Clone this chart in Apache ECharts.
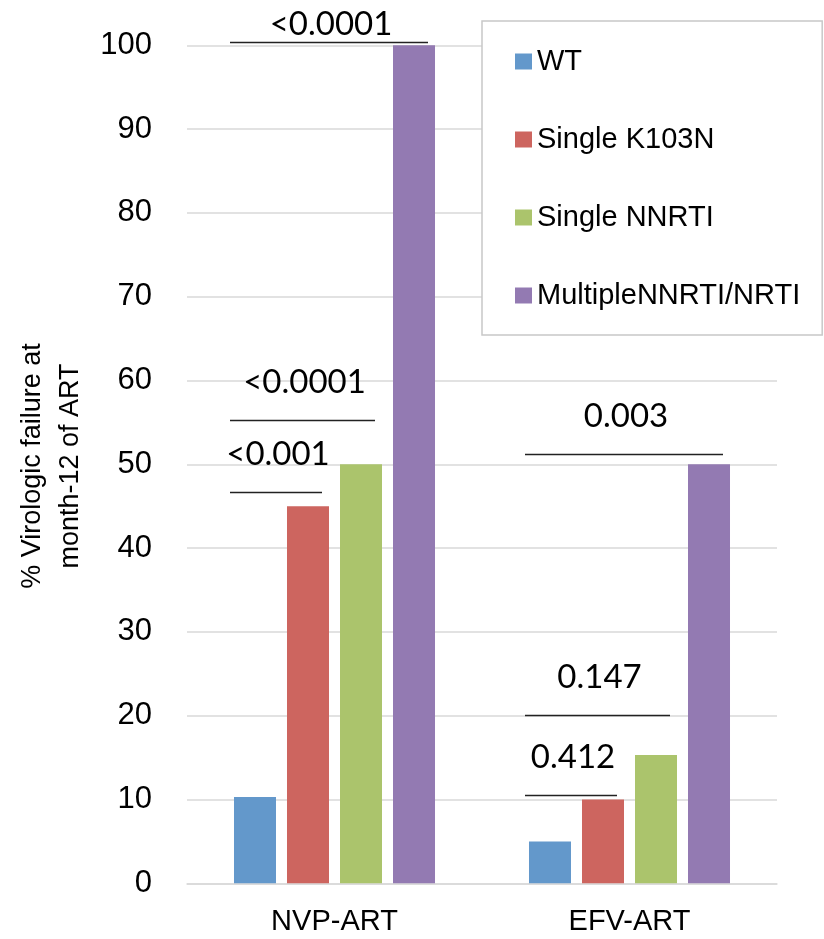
<!DOCTYPE html>
<html>
<head>
<meta charset="utf-8">
<script src="https://cdn.jsdelivr.net/npm/echarts@6/dist/echarts.min.js"></script>
<style>
  html, body { margin: 0; padding: 0; background: #fff; }
  #chart { width: 824px; height: 939px; }
</style>
</head>
<body>
<div id="chart"></div>
<script>
// Regimens on the x axis
const categories = ['NVP-ART', 'EFV-ART'];

// Resistance groups and their virologic failure rates (%)
const seriesNames = ['WT', 'Single K103N', 'Single NNRTI', 'MultipleNNRTI/NRTI'];
const wtValues = [10.3, 5];
const k103nValues = [45, 10];
const nnrtiValues = [50, 15.3];
const multipleValues = [100, 50];

// Y axis ticks
const yTicks = [0, 10, 20, 30, 40, 50, 60, 70, 80, 90, 100];

// Significance brackets: regimen index, level (%), first group, last group, p-value text
const bracketCategory = [0, 0, 0, 1, 1, 1];
const bracketLevel = [100.4, 55.3, 46.7, 51.2, 20.1, 10.5];
const bracketFrom = [0, 0, 0, 0, 0, 0];
const bracketTo = [3, 2, 1, 3, 2, 1];
const bracketText = ['<0.0001', '<0.0001', '<0.001', '0.003', '0.147', '0.412'];

const colors = ['#6398CB', '#CD655F', '#ABC46C', '#937AB2'];
const valueSets = [wtValues, k103nValues, nnrtiValues, multipleValues];

const BAR_W = 42;
const BAR_STEP = 53;
const FONT = '"Liberation Sans", Arial, Helvetica, sans-serif';

const chart = echarts.init(document.getElementById('chart'), null, { renderer: 'canvas' });

const barSeries = seriesNames.map((name, i) => ({
  name: name,
  type: 'bar',
  data: valueSets[i],
  barWidth: BAR_W,
  barGap: ((BAR_STEP - BAR_W) / BAR_W * 100).toFixed(1) + '%',
  itemStyle: { color: colors[i] },
  emphasis: { disabled: true },
  z: 2
}));

const bracketData = bracketCategory.map((c, i) => [c, bracketLevel[i], bracketFrom[i], bracketTo[i]]);

const bracketSeries = {
  type: 'custom',
  coordinateSystem: 'cartesian2d',
  data: bracketData,
  silent: true,
  z: 5,
  renderItem: function (params, api) {
    const p = api.coord([api.value(0), api.value(1)]);
    const from = api.value(2);
    const to = api.value(3);
    const x0 = p[0] + (from - 1.5) * BAR_STEP - BAR_W / 2 - 4;
    const x1 = p[0] + (to - 1.5) * BAR_STEP + BAR_W / 2 - 7;
    const y = Math.round(p[1]) + 0.5;
    const ty = Math.max(y - 38, 24);
    return {
      type: 'group',
      children: [
        {
          type: 'line',
          shape: { x1: x0, y1: y, x2: x1, y2: y },
          style: { stroke: '#222', lineWidth: 1.5 }
        },
        {
          type: 'text',
          x: (x0 + x1) / 2 + 2,
          y: ty,
          style: {
            text: bracketText[params.dataIndex],
            fontFamily: 'Lato, "Open Sans", sans-serif',
            fontSize: 33,
            fill: '#000',
            align: 'center',
            verticalAlign: 'middle'
          }
        }
      ]
    };
  }
};

chart.setOption({
  animation: false,
  backgroundColor: '#fff',
  grid: {
    left: 187,
    right: 47,
    top: 45.3,
    bottom: 55.7,
    containLabel: false,
    outerBoundsMode: 'none'
  },
  legend: {
    data: seriesNames,
    orient: 'vertical',
    left: 482,
    top: 21,
    itemWidth: 17,
    itemHeight: 16,
    itemGap: 49,
    icon: 'rect',
    padding: [26, 22, 25, 33],
    borderColor: '#c8c8c8',
    borderWidth: 1.5,
    backgroundColor: '#fff',
    selectedMode: false,
    textStyle: { fontFamily: FONT, fontSize: 29, color: '#000' }
  },
  xAxis: {
    type: 'category',
    data: categories,
    axisLine: { show: true, lineStyle: { color: '#d9d9d9', width: 1.5 } },
    axisTick: { show: false },
    axisLabel: { fontFamily: FONT, fontSize: 29, color: '#000', margin: 24 },
    splitLine: { show: false }
  },
  yAxis: {
    type: 'value',
    min: yTicks[0],
    max: yTicks[yTicks.length - 1],
    interval: yTicks[1] - yTicks[0],
    axisLine: { show: false },
    axisTick: { show: false },
    axisLabel: { fontFamily: FONT, fontSize: 31, color: '#000', margin: 35 },
    splitLine: { lineStyle: { color: '#d9d9d9', width: 1.5 } }
  },
  graphic: [
    {
      type: 'text',
      x: 52,
      y: 466,
      rotation: Math.PI / 2,
      style: {
        text: '% Virologic failure at\nmonth-12 of ART',
        fontFamily: FONT,
        fontSize: 27,
        lineHeight: 38,
        fill: '#000',
        align: 'center',
        verticalAlign: 'middle'
      }
    }
  ],
  series: barSeries.concat([bracketSeries])
});
</script>
</body>
</html>
